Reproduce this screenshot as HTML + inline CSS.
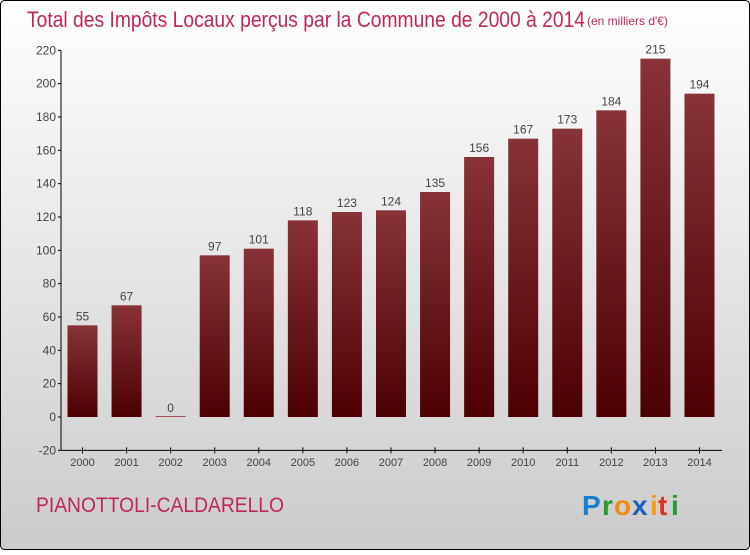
<!DOCTYPE html>
<html><head><meta charset="utf-8"><style>
html,body{margin:0;padding:0;}
body{width:750px;height:550px;overflow:hidden;font-family:"Liberation Sans",sans-serif;}
</style></head><body>
<svg id="chart" width="750" height="550" xmlns="http://www.w3.org/2000/svg">
<defs>
<linearGradient id="bg" x1="0" y1="0" x2="0" y2="1"><stop offset="0" stop-color="#ffffff"/><stop offset="1" stop-color="#cbcbcb"/></linearGradient>
<linearGradient id="bar" x1="0" y1="0" x2="0" y2="1"><stop offset="0" stop-color="#873338"/><stop offset="1" stop-color="#4c0002"/></linearGradient>
</defs>
<rect x="0.5" y="0.5" width="749" height="549" rx="4" fill="url(#bg)" stroke="#000"/>
<text x="27" y="27" font-size="22" fill="#c0275a" textLength="558" lengthAdjust="spacingAndGlyphs">Total des Impôts Locaux perçus par la Commune de 2000 à 2014</text>
<text x="587" y="25" font-size="12" fill="#c0275a">(en milliers d'€)</text>
<g id="axes"></g>
<g id="bars"></g>
<text x="36" y="512" font-size="21" fill="#c0275a" textLength="248" lengthAdjust="spacingAndGlyphs">PIANOTTOLI-CALDARELLO</text>
<g font-size="28" font-weight="bold" font-family="'Liberation Sans',sans-serif">
<text x="582" y="515" fill="#1a7fd4">P</text><text x="602" y="515" fill="#2a9a2a">r</text><text x="614" y="515" fill="#f08a10">o</text><text x="632" y="515" fill="#1a5fc4">x</text><text x="650" y="515" fill="#f0a010">i</text><text x="658" y="515" fill="#e03020">t</text><text x="671" y="515" fill="#2a9a2a">i</text>
</g>
</svg>
<script>
const years=["2000","2001","2002","2003","2004","2005","2006","2007","2008","2009","2010","2011","2012","2013","2014"];
const values=[55,67,0,97,101,118,123,124,135,156,167,173,184,215,194];
const yTicks=[-20,0,20,40,60,80,100,120,140,160,180,200,220];
const NS="http://www.w3.org/2000/svg";
const y=v=>417-(v*400/240);
const x=i=>82.5+i*44.07;
function mk(t,a,p){const e=document.createElementNS(NS,t);for(const k in a)e.setAttribute(k,a[k]);p.appendChild(e);return e;}
const ax=document.getElementById('axes'),bg=document.getElementById('bars');
let l=mk('line',{x1:61,y1:y(220),x2:61,y2:y(-20),stroke:'#000','stroke-width':1},ax);


l=mk('line',{x1:61,y1:y(-20),x2:722,y2:y(-20),stroke:'#000','stroke-width':1},ax);


yTicks.forEach(v=>{
 mk('line',{x1:58,x2:61,y1:y(v),y2:y(v),stroke:'#000'},ax);
 const t=mk('text',{x:56,y:y(v)+4,'font-size':12,'text-anchor':'end',fill:'#444'},ax);
 t.textContent=v;
 
 
});
years.forEach((yr,i)=>{
 mk('line',{x1:x(i),x2:x(i),y1:y(-20)-3,y2:y(-20)+3,stroke:'#000'},ax);
 const t=mk('text',{x:x(i),y:466,'font-size':11,'text-anchor':'middle',fill:'#444'},ax);
 t.textContent=yr;
 
 
 const v=values[i];
 const h=Math.max(1,y(0)-y(v));
 const r=mk('rect',{x:x(i)-15,y:y(0)-h,width:30,height:h,fill:v===0?'#a05055':'url(#bar)'},bg);
 
 
 const lb=mk('text',{x:x(i),y:y(v)-5,'font-size':12,'text-anchor':'middle',fill:'#444'},bg);
 lb.textContent=v;
 
 
});
</script>
</body></html>
